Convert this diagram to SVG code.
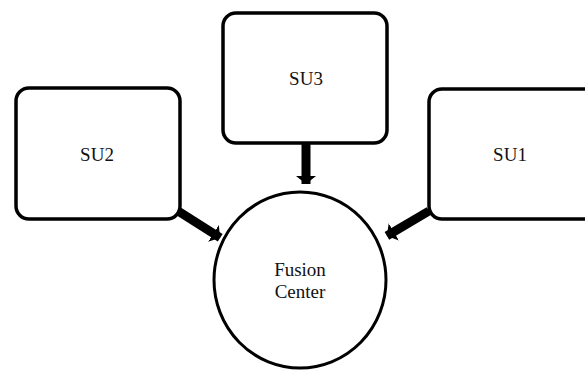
<svg xmlns="http://www.w3.org/2000/svg" width="585" height="373" viewBox="0 0 585 373">
<style>
.box{fill:#fff;stroke:#000;stroke-width:3.5}
.lbl{font-family:"Liberation Serif","Times New Roman",serif;font-size:19px;fill:#111;text-anchor:middle}
.conn{stroke:#000;stroke-width:9;fill:none}
</style>
<defs>
<marker id="ah" markerUnits="userSpaceOnUse" markerWidth="10" markerHeight="22" refX="8" refY="11" orient="auto" viewBox="0 0 10 22">
<path d="M0,1 L8,11 L0,21 z" fill="#000"/>
</marker>
</defs>
<rect width="585" height="373" fill="#fff"/>
<g id="connectors">
<line class="conn" x1="306" y1="143" x2="306" y2="184" marker-end="url(#ah)"/>
<line class="conn" x1="178" y1="211" x2="220.2" y2="237.7" marker-end="url(#ah)"/>
<line class="conn" x1="429" y1="211" x2="386.9" y2="235.9" marker-end="url(#ah)"/>
</g>
<g id="su2">
<rect class="box" x="16" y="88" width="164" height="131" rx="13"/>
<text class="lbl" x="97" y="161">SU2</text>
</g>
<g id="su3">
<rect class="box" x="223" y="13" width="164" height="130" rx="13"/>
<text class="lbl" x="306" y="85">SU3</text>
</g>
<g id="su1">
<rect class="box" x="429" y="89" width="170" height="130" rx="13"/>
<text class="lbl" x="510" y="161">SU1</text>
</g>
<g id="fusion">
<ellipse cx="300" cy="280" rx="86" ry="88" fill="#fff" stroke="#000" stroke-width="3"/>
<text class="lbl" x="300" y="276">Fusion</text>
<text class="lbl" x="300" y="298">Center</text>
</g>
</svg>
